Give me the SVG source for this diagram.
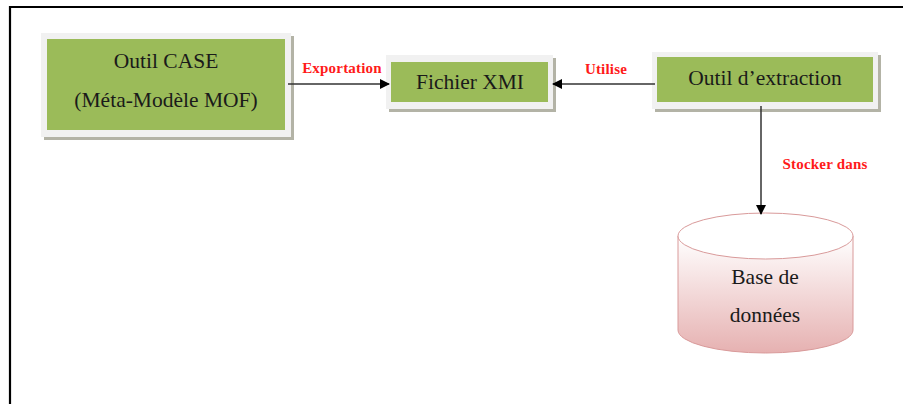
<svg xmlns="http://www.w3.org/2000/svg" width="903" height="404" viewBox="0 0 903 404">
<defs>
<style>
.frame{stroke:#000;stroke-width:2.2;fill:none}
.outer{fill:#f1f1f1}
.shadow{fill:#b3b3a6}
.box{fill:#9bbb59}
.t{font-family:"Liberation Serif","Times New Roman",serif;font-size:21.5px;fill:#1a1a1a;text-anchor:middle}
.lbl{font-family:"Liberation Serif","Times New Roman",serif;font-size:15px;font-weight:bold;fill:#ff1a1a;text-anchor:middle;letter-spacing:0.2px}
.con{stroke:#333;stroke-width:1.5;fill:none}
</style>
<marker id="ah" markerWidth="10" markerHeight="10" refX="9" refY="5" orient="auto" markerUnits="userSpaceOnUse">
<path d="M0,0 L10,5 L0,10 Z" fill="#000"/>
</marker>
<linearGradient id="cyl" x1="0" y1="0" x2="0" y2="1">
<stop offset="0" stop-color="#ffffff"/>
<stop offset="1" stop-color="#e6b1b1"/>
</linearGradient>
</defs>
<rect width="903" height="404" fill="#fff"/>
<path class="frame" d="M10,404 V7 H903"/>
<g id="node-case">
<rect class="shadow" x="44" y="36" width="250" height="104"/>
<rect class="outer" x="41" y="33" width="250" height="104"/>
<rect class="box" x="47" y="39" width="238" height="91"/>
<text class="t" x="166" y="68">Outil CASE</text>
<text class="t" x="166" y="107">(Méta-Modèle MOF)</text>
</g>
<g id="node-xmi">
<rect class="shadow" x="389" y="58" width="167" height="54"/>
<rect class="outer" x="386" y="55" width="167" height="54"/>
<rect class="box" x="391" y="62" width="157" height="40"/>
<text class="t" x="470" y="89">Fichier XMI</text>
</g>
<g id="node-extraction">
<rect class="shadow" x="655" y="55" width="226" height="57"/>
<rect class="outer" x="652" y="52" width="226" height="57"/>
<rect class="box" x="657" y="57" width="216" height="45"/>
<text class="t" x="765" y="85">Outil d’extraction</text>
</g>
<g id="node-db">
<path d="M678,236 V330 A87.5,23 0 0 0 853,330 V236" fill="url(#cyl)" stroke="#d99a9a" stroke-width="1"/>
<ellipse cx="765.5" cy="236" rx="87.5" ry="23" fill="#fff" stroke="#d99a9a" stroke-width="1"/>
<text class="t" x="765" y="284">Base de</text>
<text class="t" x="765" y="322">données</text>
</g>
<g id="connectors">
<line class="con" x1="288" y1="84" x2="389" y2="84" marker-end="url(#ah)"/>
<text class="lbl" x="342" y="73">Exportation</text>
<line class="con" x1="655" y1="84" x2="553" y2="84" marker-end="url(#ah)"/>
<text class="lbl" x="606" y="74">Utilise</text>
<line class="con" x1="761" y1="106" x2="761" y2="214" marker-end="url(#ah)"/>
<text class="lbl" x="825" y="169">Stocker dans</text>
</g>
</svg>
